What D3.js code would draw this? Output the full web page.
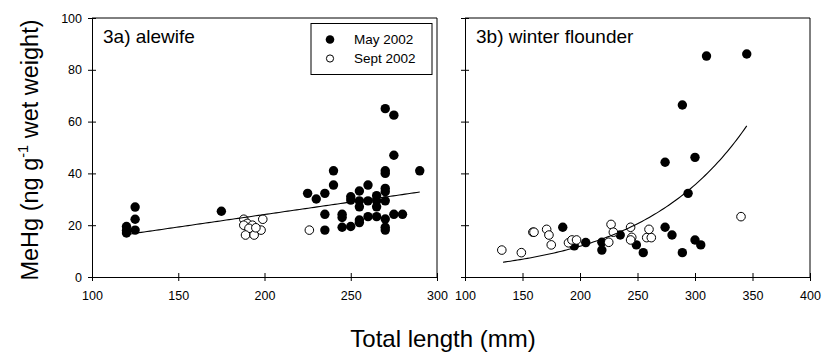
<!DOCTYPE html>
<html><head><meta charset="utf-8">
<script src="https://cdn.jsdelivr.net/npm/d3@7"></script>
<style>body{margin:0;background:#fff} text{font-family:"Liberation Sans",Arial,sans-serif;fill:#000}</style>
</head><body><svg id="c" width="825" height="354"></svg>
<script>
// ---- data ----
const xTicksA = [100,150,200,250,300];
const xTicksB = [100,150,200,250,300,350,400];
const yTicks = [0,20,40,60,80,100];
const seriesNames = ["May 2002","Sept 2002"];
const panelTitles = ["3a) alewife","3b) winter flounder"];

const alewifeMayX = [120,120,120,125,125,125,175,225,230,235,235,235,240,240,245,245,245,250,250,250,255,255,255,255,255,260,260,260,265,265,265,265,270,270,270,270,270,270,270,270,270,275,275,275,280,290];
const alewifeMayY = [17,18,19.5,27,22.3,18.1,25.4,32.3,30.1,32.3,24.2,18.1,41,35.5,24.2,23,19.2,31,29.7,19.5,33.2,29.4,27.1,22,21,35.5,29.4,23.3,31.4,29.4,27.1,23.3,65,41,40,34.2,32.9,29.4,22.4,19.2,18.1,62.5,47,24.2,24.2,41];
const alewifeSeptX = [188,190,193,188,191,189,194,198,199,195,226];
const alewifeSeptY = [22.3,20.7,20,20,18.8,16.2,16.2,18.1,22.3,19,18.1];

const flounderMayX = [185,195,205,219,219,235,249,255,274,274,280,289,289,294,300,300,305,310,345];
const flounderMayY = [19.2,12,13.3,13.4,10.4,16.2,12.4,9.4,44.3,19.2,16.2,9.4,66.4,32.3,46.2,14.3,12.4,85.3,86.1];
const flounderSeptX = [132,149,159,160,171,173,175,190,193,197,225,227,229,244,245,244,260,258,262,340];
const flounderSeptY = [10.4,9.4,17.3,17.3,18.4,16.2,12.4,13.2,14.3,14.3,13.4,20.3,17.3,19.2,15.3,14.3,18.4,15.2,15.2,23.3];

// fitted models
const alewifeFit = {slope:0.0965, intercept:4.82, from:120, to:290};
const flounderFit = {a:1.325, b:0.01097, from:133, to:345};

// ---- layout ----
const svg = d3.select("#c");
const plotTop = 18, plotBottom = 277;
const panels = [
  {x0:92, x1:437, dom:[100,300], ticks:xTicksA, yLabels:true, title:panelTitles[0],
   may:d3.zip(alewifeMayX, alewifeMayY), sept:d3.zip(alewifeSeptX, alewifeSeptY),
   fit:x=>alewifeFit.intercept+alewifeFit.slope*x, fr:[alewifeFit.from, alewifeFit.to], legend:true},
  {x0:465, x1:810, dom:[100,400], ticks:xTicksB, yLabels:false, title:panelTitles[1],
   may:d3.zip(flounderMayX, flounderMayY), sept:d3.zip(flounderSeptX, flounderSeptY),
   fit:x=>flounderFit.a*Math.exp(flounderFit.b*x), fr:[flounderFit.from, flounderFit.to], legend:false}
];

panels.forEach(p=>{
  const x = d3.scaleLinear().domain(p.dom).range([p.x0,p.x1]);
  const y = d3.scaleLinear().domain([0,100]).range([plotBottom,plotTop]);
  const g = svg.append("g");
  g.append("line").attr("x1",p.x0).attr("x2",p.x1).attr("y1",plotTop).attr("y2",plotTop).attr("stroke","#000");
  g.append("line").attr("x1",p.x1).attr("x2",p.x1).attr("y1",plotTop).attr("y2",plotBottom).attr("stroke","#000");
  const ax = g.append("g").attr("transform",`translate(0,${plotBottom})`)
    .call(d3.axisBottom(x).tickValues(p.ticks).tickSize(4).tickSizeOuter(0).tickPadding(10));
  ax.selectAll(".tick line").attr("y1",-4);
  const ay = g.append("g").attr("transform",`translate(${p.x0},0)`)
    .call(d3.axisLeft(y).tickValues(yTicks).tickSize(4).tickSizeOuter(0).tickPadding(6));
  ay.selectAll(".tick line").attr("x1",4);
  if(!p.yLabels) ay.selectAll(".tick text").remove();
  [ax,ay].forEach(a=>{
    a.selectAll("path,line").attr("stroke","#000");
    a.selectAll("text").attr("font-size","12.5px").attr("font-family",'"Liberation Sans",Arial,sans-serif').attr("fill","#000");
  });
  g.selectAll(".may").data(p.may).join("circle").attr("class","may")
    .attr("cx",d=>x(d[0])).attr("cy",d=>y(d[1])).attr("r",4.7).attr("fill","#000");
  g.selectAll(".sept").data(p.sept).join("circle").attr("class","sept")
    .attr("cx",d=>x(d[0])).attr("cy",d=>y(d[1])).attr("r",4.3).attr("fill","#fff").attr("stroke","#000").attr("stroke-width",1);
  const xs = d3.range(p.fr[0], p.fr[1]+0.001, (p.fr[1]-p.fr[0])/100);
  g.append("path").datum(xs).attr("fill","none").attr("stroke","#000").attr("stroke-width",1.1)
    .attr("d", d3.line().x(d=>x(d)).y(d=>y(p.fit(d))));
  g.append("text").attr("x",p.x0+11).attr("y",43).attr("font-size","19px").text(p.title);
  if(p.legend){
    const L = g.append("g");
    L.append("rect").attr("x",311).attr("y",23.5).attr("width",121).attr("height",51).attr("fill","#fff").attr("stroke","#000");
    L.append("circle").attr("cx",330).attr("cy",39.5).attr("r",4.3).attr("fill","#000");
    L.append("circle").attr("cx",330).attr("cy",58.5).attr("r",3.6).attr("fill","#fff").attr("stroke","#000");
    L.append("text").attr("x",354).attr("y",44).attr("font-size","13.5px").text(seriesNames[0]);
    L.append("text").attr("x",354).attr("y",63).attr("font-size","13.5px").text(seriesNames[1]);
  }
});

svg.append("text").attr("x",443).attr("y",347).attr("text-anchor","middle").attr("font-size","24px").text("Total length (mm)");
const yt = svg.append("text").attr("transform","translate(38,150) rotate(-90)").attr("text-anchor","middle").attr("font-size","23.5px");
yt.append("tspan").text("MeHg (ng g");
yt.append("tspan").attr("font-size","14.5px").attr("dy","-10").text("-1");
yt.append("tspan").attr("dy","10").text(" wet weight)");
</script></body></html>
